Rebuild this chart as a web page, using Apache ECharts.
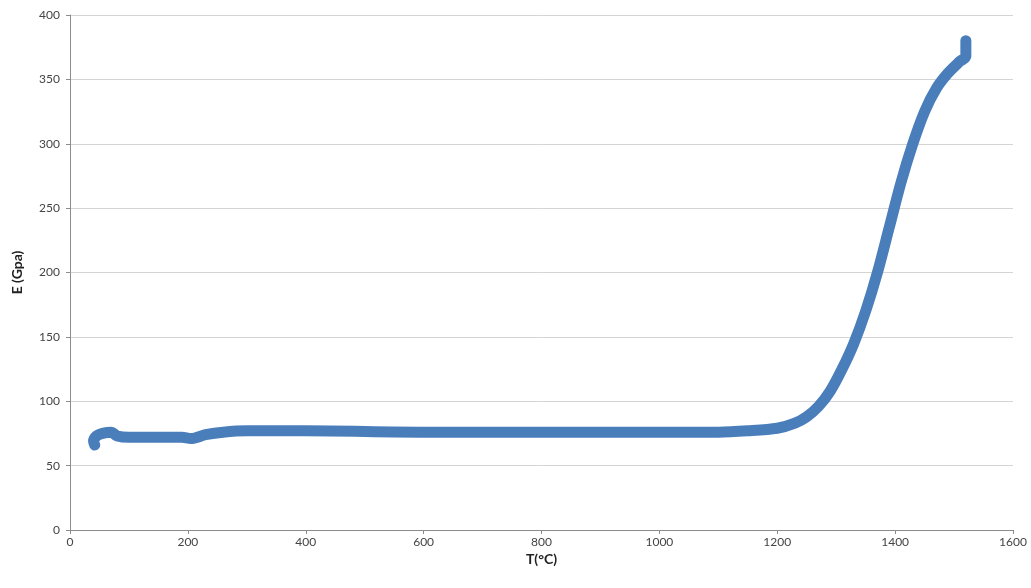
<!DOCTYPE html>
<html><head><meta charset="utf-8">
<script src="https://cdn.jsdelivr.net/npm/echarts@6/dist/echarts.min.js"></script>
<style>html,body{margin:0;padding:0;background:#fff}#c{width:1031px;height:588px}</style>
</head><body><div id="c"></div>
<script>
const temperature = [42, 40, 45, 55, 70, 80, 100, 150, 190, 205, 230, 260, 300, 400, 600, 800, 1000, 1100, 1150, 1200, 1230, 1250, 1270, 1290, 1310, 1330, 1350, 1370, 1390, 1410, 1430, 1450, 1470, 1490, 1510, 1520, 1520];
const modulus = [66, 69, 73, 75, 76, 73, 72, 72, 72, 71, 74, 76, 77, 77, 76, 76, 76, 76, 77, 79, 83, 88, 96, 108, 125, 145, 170, 200, 235, 270, 300, 325, 343, 355, 364, 368, 380];
const xTicks = [0, 200, 400, 600, 800, 1000, 1200, 1400, 1600];
const yTicks = [0, 50, 100, 150, 200, 250, 300, 350, 400];

const data = temperature.map((t, i) => [t, modulus[i]]);
const chart = echarts.init(document.getElementById('c'), null, {renderer: 'canvas'});
const font = 'Lato, "Open Sans", sans-serif';
chart.setOption({
  animation: false,
  grid: {left: 70, top: 15, right: 18, bottom: 58},
  xAxis: {
    type: 'value', min: xTicks[0], max: xTicks[xTicks.length - 1], interval: 200,
    name: 'T(°C)', nameLocation: 'middle', nameGap: 19,
    nameTextStyle: {fontFamily: font, fontWeight: 'bold', fontSize: 14, color: '#222'},
    axisLine: {show: true, lineStyle: {color: '#8c8c8c'}},
    axisTick: {show: true, length: 4, lineStyle: {color: '#8c8c8c'}},
    axisLabel: {fontFamily: font, fontSize: 12, color: '#444', margin: 6, formatter: v => String(v)},
    splitLine: {show: false}
  },
  yAxis: {
    type: 'value', min: yTicks[0], max: yTicks[yTicks.length - 1], interval: 50,
    name: 'E (Gpa)', nameLocation: 'middle', nameGap: 46, nameRotate: 90,
    nameTextStyle: {fontFamily: font, fontWeight: 'bold', fontSize: 14, color: '#222'},
    axisLine: {show: true, lineStyle: {color: '#8c8c8c'}},
    axisTick: {show: true, length: 4, lineStyle: {color: '#8c8c8c'}},
    axisLabel: {fontFamily: font, fontSize: 12, color: '#444', margin: 10, formatter: v => String(v)},
    splitLine: {show: true, lineStyle: {color: '#d4d4d4'}}
  },
  series: [{
    type: 'line', data: data, showSymbol: false, smooth: 0.3,
    lineStyle: {color: '#4a7ebb', width: 11, cap: 'round', join: 'round'}
  }]
});
</script></body></html>
